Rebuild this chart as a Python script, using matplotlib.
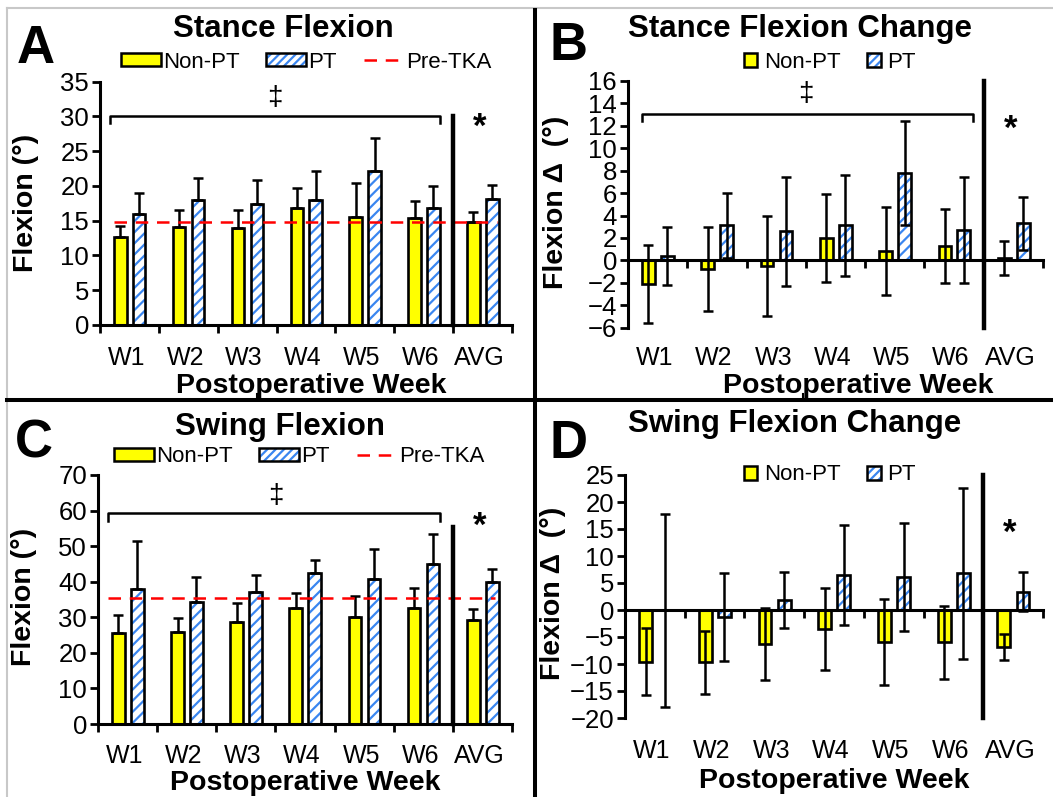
import numpy as np
import matplotlib
matplotlib.use('Agg')
from matplotlib import pyplot as plt
from matplotlib.patches import Patch
from matplotlib.lines import Line2D
from matplotlib import transforms

plt.rcParams['font.family'] = ['Liberation Sans', 'DejaVu Sans']
plt.rcParams['hatch.linewidth'] = 1.6

weeks = ['W1', 'W2', 'W3', 'W4', 'W5', 'W6', 'AVG']

# A - stance flexion (deg)
stance_nonpt = [12.6, 14.1, 14.0, 16.8, 15.6, 15.4, 14.8]
stance_nonpt_sd = [1.7, 2.5, 2.5, 2.9, 4.8, 2.5, 1.5]
stance_pt = [15.9, 18.0, 17.4, 18.0, 22.2, 16.8, 18.1]
stance_pt_sd = [3.1, 3.1, 3.45, 4.2, 4.7, 3.2, 2.1]
stance_pre = 14.8

# B - stance flexion change
stance_chg_nonpt = [-2.1, -0.75, -0.5, 2.0, 0.85, 1.3, 0.2]
stance_chg_nonpt_sd = [3.5, 3.75, 4.5, 3.95, 3.9, 3.3, 1.5]
stance_chg_pt = [0.4, 3.15, 2.6, 3.15, 7.8, 2.7, 3.3]
stance_chg_pt_sd = [2.6, 2.9, 4.85, 4.5, 4.65, 4.75, 2.4]

# C - swing flexion
swing_nonpt = [25.7, 26.0, 28.6, 32.55, 30.2, 32.55, 29.1]
swing_nonpt_sd = [5.0, 3.7, 5.5, 4.25, 5.9, 5.8, 3.3]
swing_pt = [38.0, 34.4, 37.2, 42.4, 40.9, 45.1, 39.8]
swing_pt_sd = [13.5, 6.8, 4.7, 3.8, 8.2, 8.3, 3.8]
swing_pre = 35.4

# D - swing flexion change
swing_chg_nonpt = [-9.6, -9.7, -6.3, -3.5, -5.9, -6.0, -6.8]
swing_chg_nonpt_sd = [6.2, 5.9, 6.7, 7.6, 7.9, 6.7, 2.4]
swing_chg_pt = [-0.05, -1.3, 1.8, 6.5, 6.2, 6.8, 3.4]
swing_chg_pt_sd = [17.85, 8.1, 5.2, 9.3, 10.0, 15.8, 3.6]

yellow = '#ffff00'
blue = '#3a86f0'
W, H = 1053, 797


def fx(px):
    return px / W


def fy(py):
    return 1 - py / H


def draw_panel(ax, nonpt, nonpt_sd, pt, pt_sd, ylim, ystep, two_sided):
    x = np.arange(len(weeks))
    w = 0.215
    xn = x - 0.155
    xp = x + 0.165
    ax.bar(xn, nonpt, w, color=yellow, edgecolor='black', linewidth=1.9, zorder=2)
    ax.bar(xp, pt, w, color='white', edgecolor=blue, hatch='///', linewidth=0, zorder=2)
    ax.bar(xp, pt, w, fill=False, edgecolor='black', linewidth=1.9, zorder=2)
    if two_sided:
        en = nonpt_sd
        ep = pt_sd
    else:
        en = [np.zeros(len(nonpt)), nonpt_sd]
        ep = [np.zeros(len(pt)), pt_sd]
    ax.errorbar(xn, nonpt, yerr=en, fmt='none', ecolor='black', elinewidth=1.8,
                capsize=3.3, capthick=1.8, zorder=3)
    ax.errorbar(xp, pt, yerr=ep, fmt='none', ecolor='black', elinewidth=1.8,
                capsize=3.3, capthick=1.8, zorder=3)
    ax.set_xlim(-0.5, 6.5)
    ax.set_ylim(*ylim)
    ax.set_yticks(np.arange(ylim[0], ylim[1] + 0.01, ystep))
    ax.set_xticks(np.arange(-0.5, 7, 1.0) if not two_sided else np.arange(0.5, 7, 1.0))
    ax.set_xticklabels([])
    ax.spines['top'].set_visible(False)
    ax.spines['right'].set_visible(False)
    for s in ['left', 'bottom']:
        ax.spines[s].set_linewidth(2.2)
    if two_sided:
        ax.spines['bottom'].set_position(('data', 0))
    ax.tick_params(axis='both', direction='out', width=2.0, length=6)
    ax.tick_params(axis='y', labelsize=18.5, pad=2)


def week_labels(fig, ax, base_px):
    tr = transforms.blended_transform_factory(ax.transData, fig.transFigure)
    for i, lab in enumerate(weeks):
        ax.text(i - 0.05, fy(base_px), lab, transform=tr, ha='center', va='baseline',
                fontsize=18, clip_on=False)


fig = plt.figure(figsize=(W / 100, H / 100), dpi=100)

axA = fig.add_axes([fx(100), fy(325), fx(412), 243.3 / H])
axB = fig.add_axes([fx(628), fy(327.7), fx(415), 246.7 / H])
axC = fig.add_axes([fx(98), fy(724), fx(414), 249 / H])
axD = fig.add_axes([fx(625), fy(718), fx(418), 243 / H])

draw_panel(axA, stance_nonpt, stance_nonpt_sd, stance_pt, stance_pt_sd, (0, 35), 5, False)
draw_panel(axB, stance_chg_nonpt, stance_chg_nonpt_sd, stance_chg_pt, stance_chg_pt_sd, (-6, 16), 2, True)
draw_panel(axC, swing_nonpt, swing_nonpt_sd, swing_pt, swing_pt_sd, (0, 70), 10, False)
draw_panel(axD, swing_chg_nonpt, swing_chg_nonpt_sd, swing_chg_pt, swing_chg_pt_sd, (-20, 25), 5, True)

# pre-TKA reference lines
dash = (0, (5, 3.5))
axA.plot([-0.27, 6.25], [stance_pre, stance_pre], color='red', lw=1.8, linestyle=dash, zorder=4)
axC.plot([-0.33, 6.22], [swing_pre, swing_pre], color='red', lw=1.8, linestyle=dash, zorder=4)

# separators before AVG
axA.plot([5.5, 5.5], [0, 30], color='black', lw=3.2, zorder=4, clip_on=False)
axB.plot([5.5, 5.5], [-6, 16], color='black', lw=3.2, zorder=4, clip_on=False)
axC.plot([5.5, 5.5], [0, 55.5], color='black', lw=3.2, zorder=4, clip_on=False)
axD.plot([5.5, 5.5], [-20, 25], color='black', lw=3.2, zorder=4, clip_on=False)

# brackets with significance marks
axA.plot([-0.33, -0.33, 5.28, 5.28], [29.0, 30.0, 30.0, 29.0], color='black', lw=1.8)
axB.plot([-0.27, -0.27, 5.32, 5.32], [12.4, 13.1, 13.1, 12.4], color='black', lw=1.8)
axC.plot([-0.33, -0.33, 5.29, 5.29], [57.0, 59.2, 59.2, 57.0], color='black', lw=1.8)
axA.text(2.47, 32.6, '‡', ha='center', va='center', fontsize=20)
axB.text(2.5, 14.8, '‡', ha='center', va='center', fontsize=20)
axC.text(2.5, 64.0, '‡', ha='center', va='center', fontsize=20)
for ax, yy in [(axA, 28.4), (axB, 11.7), (axC, 55.5), (axD, 14.2)]:
    ax.text(5.95, yy, '*', ha='center', va='center', fontsize=25, fontweight='bold')

# week labels and axis titles
week_labels(fig, axA, 365)
week_labels(fig, axB, 365)
week_labels(fig, axC, 763)
week_labels(fig, axD, 758)

for xc, yb in [(311, 393), (858, 393), (305, 790), (834, 788)]:
    fig.text(fx(xc), fy(yb), 'Postoperative Week', ha='center', va='baseline',
             fontsize=20.5, fontweight='bold')
fig.text(fx(26), fy(203), 'Flexion (°)', rotation=90, ha='center', va='center',
         fontsize=20.5, fontweight='bold')
fig.text(fx(556), fy(202), 'Flexion Δ  (°)', rotation=90, ha='center', va='center',
         fontsize=20.5, fontweight='bold')
fig.text(fx(24), fy(597), 'Flexion (°)', rotation=90, ha='center', va='center',
         fontsize=20.5, fontweight='bold')
fig.text(fx(553), fy(593), 'Flexion Δ  (°)', rotation=90, ha='center', va='center',
         fontsize=20.5, fontweight='bold')

# panel titles and letters
titles = [('Stance Flexion', 283, 37), ('Stance Flexion Change', 800, 37),
          ('Swing Flexion', 280, 435), ('Swing Flexion Change', 795, 432)]
for t, xc, yb in titles:
    fig.text(fx(xc), fy(yb), t, ha='center', va='baseline', fontsize=22.5, fontweight='bold')
for lab, xl, yb in [('A', 17, 63), ('B', 550, 60), ('C', 15, 457), ('D', 550, 458)]:
    fig.text(fx(xl), fy(yb), lab, ha='left', va='baseline', fontsize=38, fontweight='bold')

# legends
pt_handle = (Patch(facecolor='white', edgecolor=blue, hatch='////', linewidth=0),
             Patch(fill=False, edgecolor='black', linewidth=1.8))
np_handle = Patch(facecolor=yellow, edgecolor='black', linewidth=1.8)
pre_handle = Line2D([], [], color='red', lw=1.8, linestyle=dash)
for ax, cx, cy in [(axA, 306, 62), (axC, 299, 457)]:
    ax.legend([np_handle, pt_handle, pre_handle], ['Non-PT', 'PT', 'Pre-TKA'],
              loc='center', bbox_to_anchor=(fx(cx), fy(cy)), bbox_transform=fig.transFigure,
              ncol=3, frameon=False, fontsize=16, handlelength=1.8, handleheight=0.55,
              handletextpad=0.1, columnspacing=1.2, borderpad=0)
for ax, cx, cy in [(axB, 830, 62), (axD, 830, 475)]:
    ax.legend([np_handle, pt_handle], ['Non-PT', 'PT'],
              loc='center', bbox_to_anchor=(fx(cx), fy(cy)), bbox_transform=fig.transFigure,
              ncol=2, frameon=False, fontsize=16, handlelength=0.6, handleheight=0.6,
              handletextpad=0.3, columnspacing=1.2, borderpad=0)

# panel frame lines
fig.add_artist(Line2D([fx(7), 1], [fy(8), fy(8)], color='#c8c8c8', lw=1.5))
fig.add_artist(Line2D([fx(7), fx(7)], [fy(8), 0], color='#c8c8c8', lw=1.5))
fig.add_artist(Line2D([fx(535), fx(535)], [fy(10), 0], color='black', lw=2.9))
fig.add_artist(Line2D([fx(7), 1], [fy(400), fy(400)], color='black', lw=2.9))
fig.add_artist(Line2D([fx(257), fx(257)], [fy(394), fy(400)], color='black', lw=1.5))
fig.add_artist(Line2D([fx(803), fx(803)], [fy(394), fy(400)], color='black', lw=1.5))

plt.savefig('out.png', dpi=100)
